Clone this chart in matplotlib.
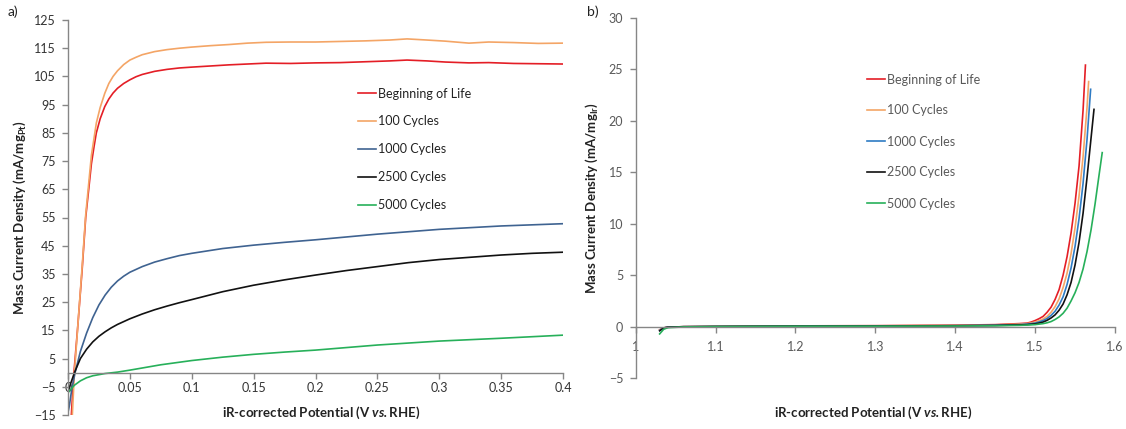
import numpy as np
import matplotlib.pyplot as plt
from matplotlib.ticker import FuncFormatter

plt.rcParams['font.family'] = ['Lato', 'DejaVu Sans']
plt.rcParams['mathtext.fontset'] = 'custom'
plt.rcParams['mathtext.rm'] = 'Lato'
plt.rcParams['mathtext.it'] = 'Lato:italic'
plt.rcParams['mathtext.bf'] = 'Lato:bold'
plt.rcParams['mathtext.bfit'] = 'Lato:bold:italic'

labels = ['Beginning of Life', '100 Cycles', '1000 Cycles', '2500 Cycles', '5000 Cycles']

# ---- panel a) low potential region ----
a_bol_x = [0.0027, 0.0048, 0.008, 0.0115, 0.0143, 0.0165, 0.0189, 0.021, 0.0229, 0.026, 0.0297,
           0.033, 0.0364, 0.04, 0.045, 0.05, 0.055, 0.06, 0.07, 0.08, 0.09, 0.1, 0.115, 0.13,
           0.145, 0.16, 0.18, 0.2, 0.22, 0.24, 0.26, 0.274, 0.29, 0.305, 0.324, 0.34, 0.36,
           0.38, 0.4]
a_bol_y = [-15, 0, 17, 37, 55, 64, 74, 80, 85, 90, 94.3, 97, 99.1, 100.8, 102.5, 103.8, 104.9,
           105.7, 106.8, 107.5, 108, 108.3, 108.7, 109.1, 109.4, 109.7, 109.6, 109.8, 109.9,
           110.2, 110.5, 110.8, 110.5, 110.1, 109.8, 109.9, 109.6, 109.5, 109.4]

a_100_x = [0.0035, 0.0052, 0.008, 0.0115, 0.0143, 0.0165, 0.0189, 0.021, 0.0229, 0.026, 0.0297,
           0.033, 0.0364, 0.04, 0.045, 0.05, 0.055, 0.06, 0.07, 0.08, 0.09, 0.1, 0.115, 0.13,
           0.145, 0.16, 0.18, 0.2, 0.22, 0.24, 0.26, 0.274, 0.29, 0.305, 0.324, 0.34, 0.36,
           0.38, 0.4]
a_100_y = [-15, 0, 17, 38, 56, 66, 77, 83, 88.5, 94, 99, 102.5, 105, 107, 109.2, 110.8, 111.8,
           112.7, 113.8, 114.5, 115, 115.4, 115.9, 116.3, 116.8, 117.1, 117.2, 117.2, 117.4,
           117.6, 117.9, 118.3, 117.9, 117.5, 116.8, 117.2, 117.0, 116.7, 116.8]

a_1000_x = [0, 0.001, 0.003, 0.0057, 0.01, 0.015, 0.02, 0.025, 0.03, 0.035, 0.04, 0.045, 0.05,
            0.06, 0.07, 0.08, 0.09, 0.1, 0.125, 0.15, 0.175, 0.2, 0.25, 0.3, 0.35, 0.4]
a_1000_y = [-14, -12, -6, 0, 7.5, 14, 19.5, 24, 27.5, 30.3, 32.5, 34.2, 35.6, 37.6, 39.2, 40.4,
            41.5, 42.3, 44.0, 45.2, 46.2, 47.1, 49.1, 50.8, 52.0, 52.8]

a_2500_x = [0, 0.002, 0.0054, 0.01, 0.015, 0.02, 0.025, 0.03, 0.035, 0.04, 0.05, 0.06, 0.07,
            0.08, 0.09, 0.1, 0.125, 0.15, 0.175, 0.2, 0.225, 0.25, 0.275, 0.3, 0.325, 0.35,
            0.375, 0.4]
a_2500_y = [-7, -4, 0.2, 5.0, 8.3, 10.9, 12.9, 14.5, 15.9, 17.1, 19.1, 20.8, 22.3, 23.6, 24.8,
            25.9, 28.7, 31.0, 32.9, 34.6, 36.2, 37.6, 39.0, 40.1, 40.9, 41.7, 42.3, 42.7]

a_5000_x = [0, 0.005, 0.01, 0.015, 0.02, 0.03, 0.04, 0.05, 0.075, 0.1, 0.125, 0.15, 0.175,
            0.2, 0.25, 0.3, 0.35, 0.4]
a_5000_y = [-7.1, -4.5, -2.9, -1.8, -1.1, -0.3, 0.2, 0.9, 2.8, 4.3, 5.5, 6.5, 7.3, 8.0, 9.8,
            11.2, 12.2, 13.3]

# ---- panel b) OER region ----
b_x_low = [1.03, 1.035, 1.04, 1.06, 1.1, 1.2, 1.3, 1.4, 1.45, 1.48]
b_x_rise = [1.49, 1.495, 1.5, 1.505, 1.51, 1.515, 1.52, 1.525, 1.53, 1.535, 1.54, 1.545, 1.55,
            1.555, 1.56]

b_bol_x = b_x_low + b_x_rise + [1.563]
b_bol_y = [-0.3, -0.12, -0.05, 0, 0.02, 0.08, 0.1, 0.15, 0.2, 0.3,
           0.35, 0.45, 0.6, 0.78, 1.0, 1.4, 1.9, 2.65, 3.6, 5.0, 6.8, 9.1, 12.0, 15.6, 21.0,
           25.4]

b_100_x = b_x_low + b_x_rise + [1.565, 1.567]
b_100_y = [-0.3, -0.12, -0.05, 0, 0.02, 0.06, 0.08, 0.12, 0.17, 0.25,
           0.3, 0.37, 0.45, 0.58, 0.75, 1.0, 1.4, 1.95, 2.7, 3.8, 5.2, 7.1, 9.6, 12.7, 16.5,
           21.3, 23.8]

b_1000_x = b_x_low + b_x_rise + [1.565, 1.5695]
b_1000_y = [-0.35, -0.12, -0.05, 0, 0.02, 0.05, 0.07, 0.1, 0.14, 0.2,
            0.25, 0.3, 0.35, 0.46, 0.6, 0.8, 1.1, 1.5, 2.1, 2.9, 4.1, 5.7, 7.8, 10.5, 13.9,
            18.2, 23.05]

b_2500_x = b_x_low + b_x_rise + [1.565, 1.57, 1.5737]
b_2500_y = [-0.4, -0.12, -0.05, 0, 0.02, 0.05, 0.06, 0.09, 0.12, 0.17,
            0.2, 0.24, 0.28, 0.35, 0.45, 0.62, 0.85, 1.15, 1.6, 2.2, 3.1, 4.3, 6.0, 8.2, 11.0,
            14.5, 18.3, 21.1]

b_5000_x = b_x_low + b_x_rise + [1.565, 1.57, 1.575, 1.58, 1.584]
b_5000_y = [-0.7, -0.25, -0.1, -0.02, 0.01, 0.04, 0.05, 0.07, 0.09, 0.13,
            0.16, 0.18, 0.2, 0.25, 0.3, 0.38, 0.5, 0.7, 0.95, 1.3, 1.8, 2.5, 3.3, 4.3, 5.6,
            7.3, 9.4, 11.9, 14.7, 16.9]

a_colors = ['#E41E26', '#F4A566', '#3F6391', '#111111', '#27B05A']
b_colors = ['#E41E26', '#F4A566', '#2E7BC4', '#111111', '#27B05A']

fig = plt.figure(figsize=(11.26, 4.29), dpi=100)
ax1 = fig.add_axes([68 / 1126, 14 / 429, 495 / 1126, 395 / 429])
ax2 = fig.add_axes([635.7 / 1126, 50.8 / 429, 479.3 / 1126, 360.5 / 429])

a_series = [(a_bol_x, a_bol_y), (a_100_x, a_100_y), (a_1000_x, a_1000_y),
            (a_2500_x, a_2500_y), (a_5000_x, a_5000_y)]
b_series = [(b_bol_x, b_bol_y), (b_100_x, b_100_y), (b_1000_x, b_1000_y),
            (b_2500_x, b_2500_y), (b_5000_x, b_5000_y)]

for (x, y), c, lab in zip(a_series, a_colors, labels):
    ax1.plot(x, y, color=c, lw=1.2, label=lab)
for (x, y), c, lab in zip(b_series, b_colors, labels):
    ax2.plot(x, y, color=c, lw=1.2, label=lab)

ax1.set_xlim(0, 0.4)
ax1.set_ylim(-15, 125)
ax1.set_xticks(np.arange(0, 0.401, 0.05))
ax1.set_yticks(np.arange(-15, 126, 10))
ax1.xaxis.set_major_formatter(FuncFormatter(lambda v, p: f'{v:g}'))

ax2.set_xlim(1, 1.6)
ax2.set_ylim(-5, 30)
ax2.set_xticks(np.arange(1, 1.601, 0.1))
ax2.set_yticks(np.arange(-5, 31, 5))
ax2.xaxis.set_major_formatter(FuncFormatter(lambda v, p: f'{v:.10g}'))

for ax, tcol in [(ax1, '#333333'), (ax2, '#595959')]:
    ax.spines['top'].set_visible(False)
    ax.spines['right'].set_visible(False)
    ax.spines['bottom'].set_position(('data', 0))
    for s in ['left', 'bottom']:
        ax.spines[s].set_color('#868686')
        ax.spines[s].set_linewidth(1.0)
    ax.tick_params(axis='both', direction='out', length=4, width=1, color='#868686',
                   labelsize=9, labelcolor=tcol)
    ax.tick_params(axis='y', pad=5)
ax1.tick_params(axis='x', pad=3)
ax2.tick_params(axis='x', pad=6)

ax1.legend(loc='upper left', bbox_to_anchor=((358 - 68) / 495, (415 - 87.5) / 395), frameon=False,
           fontsize=9, handlelength=1.45, handletextpad=0.15, labelspacing=1.27,
           borderaxespad=0, borderpad=0, labelcolor='#222222')
ax2.legend(loc='upper left', bbox_to_anchor=((867 - 635.7) / 479.3, (378.2 - 73.5) / 360.5),
           frameon=False, fontsize=9, handlelength=1.45, handletextpad=0.15, labelspacing=1.52,
           borderaxespad=0, borderpad=0, labelcolor='#595959')

xlab = r'iR-corrected Potential (V $\mathbfit{vs.}$RHE)'
fig.text(321 / 1126, 1 - 413 / 429, xlab, ha='center', va='center', fontsize=9.5,
         fontweight='bold', color='#222222')
fig.text(873 / 1126, 1 - 413 / 429, xlab, ha='center', va='center', fontsize=9.5,
         fontweight='bold', color='#222222')
fig.text(20 / 1126, 1 - 218 / 429, r'Mass Current Density (mA/mg$_{\mathbf{Pt}}$)',
         rotation=90, ha='center', va='center', fontsize=9.5, fontweight='bold', color='#222222')
fig.text(592 / 1126, 1 - 198 / 429, r'Mass Current Density (mA/mg$_{\mathbf{Ir}}$)',
         rotation=90, ha='center', va='center', fontsize=9.5, fontweight='bold', color='#222222')

fig.text(8 / 1126, 1 - 12 / 429, 'a)', ha='left', va='center', fontsize=10, color='#222222')
fig.text(587 / 1126, 1 - 12 / 429, 'b)', ha='left', va='center', fontsize=10, color='#222222')

fig.savefig('out.png', dpi=100)
